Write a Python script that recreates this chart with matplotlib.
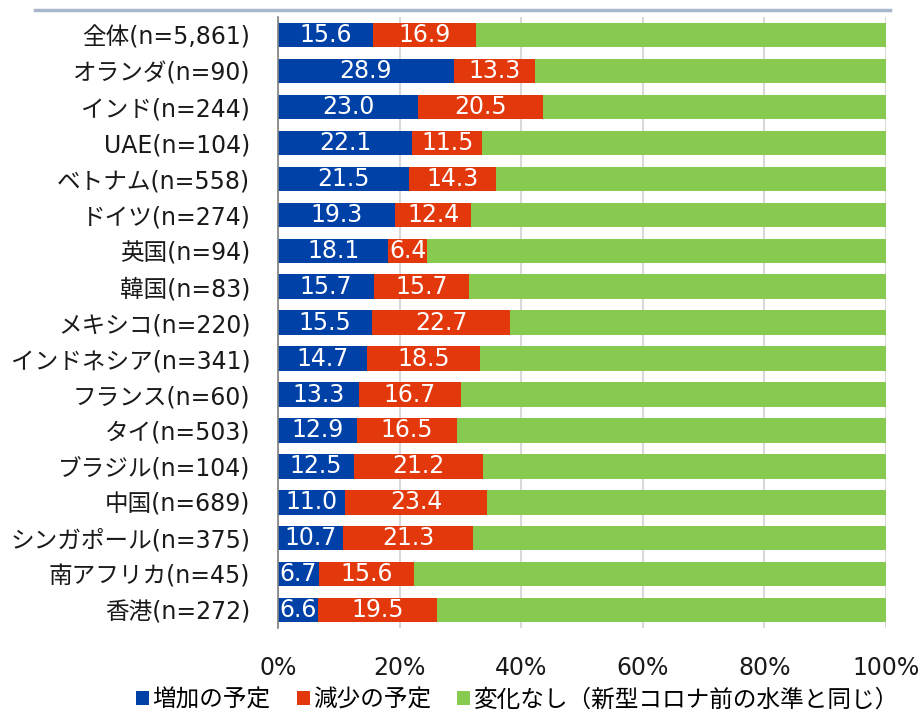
import matplotlib.pyplot as plt
import numpy as np

plt.rcParams['font.family'] = ['DejaVu Sans', 'Noto Sans CJK JP']

# data (percent)
labels = ['全体(n=5,861)', 'オランダ(n=90)', 'インド(n=244)', 'UAE(n=104)',
          'ベトナム(n=558)', 'ドイツ(n=274)', '英国(n=94)', '韓国(n=83)',
          'メキシコ(n=220)', 'インドネシア(n=341)', 'フランス(n=60)', 'タイ(n=503)',
          'ブラジル(n=104)', '中国(n=689)', 'シンガポール(n=375)', '南アフリカ(n=45)',
          '香港(n=272)']
increase = [15.6, 28.9, 23.0, 22.1, 21.5, 19.3, 18.1, 15.7, 15.5, 14.7, 13.3,
            12.9, 12.5, 11.0, 10.7, 6.7, 6.6]
decrease = [16.9, 13.3, 20.5, 11.5, 14.3, 12.4, 6.4, 15.7, 22.7, 18.5, 16.7,
            16.5, 21.2, 23.4, 21.3, 15.6, 19.5]
series_names = ['増加の予定', '減少の予定', '変化なし（新型コロナ前の水準と同じ）']

inc = np.array(increase)
dec = np.array(decrease)
same = 100 - inc - dec

blue = '#0041A8'
red = '#E3380B'
green = '#88C94F'

fig = plt.figure(figsize=(9.21, 7.17), dpi=100)
ax = fig.add_axes([0.302, 0.124, 0.66, 0.852])

y = np.arange(len(labels))
h = 0.68
b1 = ax.barh(y, inc, height=h, color=blue, label=series_names[0], zorder=3)
b2 = ax.barh(y, dec, left=inc, height=h, color=red, label=series_names[1], zorder=3)
b3 = ax.barh(y, same, left=inc + dec, height=h, color=green, label=series_names[2], zorder=3)

ax.bar_label(b1, labels=[f'{v:.1f}' for v in inc], label_type='center',
             color='white', fontsize=17)
ax.bar_label(b2, labels=[f'{v:.1f}' for v in dec], label_type='center',
             color='white', fontsize=17)

ax.set_ylim(len(labels) - 0.5, -0.5)
ax.set_xlim(0, 100)
ax.set_yticks(y)
ax.set_yticklabels(labels, fontsize=17, color='#1a1a1a')
ax.set_xticks([0, 20, 40, 60, 80, 100])
ax.set_xticklabels(['0%', '20%', '40%', '60%', '80%', '100%'], fontsize=17, color='#1a1a1a')
ax.tick_params(axis='both', length=0)
ax.tick_params(axis='y', pad=20)
ax.tick_params(axis='x', pad=20)

ax.grid(axis='x', color='#D9D9D9', linewidth=1.5, zorder=0)
for s in ['top', 'right', 'bottom']:
    ax.spines[s].set_visible(False)
ax.spines['left'].set_color('#808080')
ax.spines['left'].set_linewidth(1.2)
ax.spines['left'].set_zorder(4)

# top rule
fig.add_artist(plt.Line2D([0.038, 0.966], [0.986, 0.986], color='#A8B6CC', linewidth=2.5))

fig.legend(handles=[b1, b2, b3], loc='lower center', bbox_to_anchor=(0.562, -0.022),
           ncol=3, frameon=False, fontsize=17, handlelength=0.55, handleheight=0.55,
           handletextpad=0.15, columnspacing=1.1)

fig.savefig('out.png', dpi=100)
